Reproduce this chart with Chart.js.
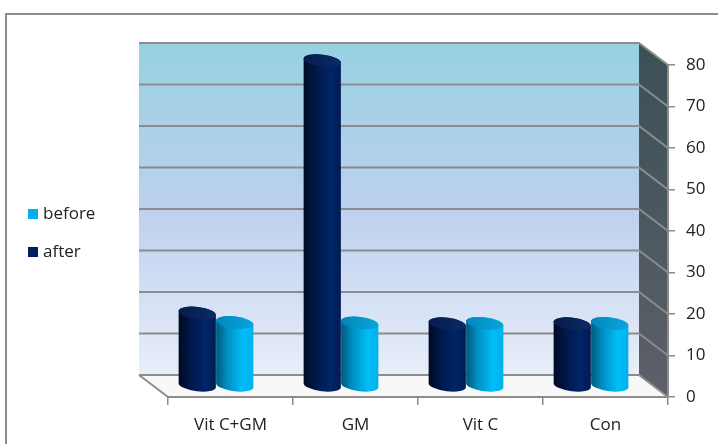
<!DOCTYPE html>
<html>
<head>
<meta charset="utf-8">
<script src="https://cdn.jsdelivr.net/npm/chart.js@4.4.1/dist/chart.umd.min.js"></script>
<style>
  html, body { margin: 0; padding: 0; background: #fff; }
  #wrap { position: relative; width: 718px; height: 444px; }
</style>
</head>
<body>
<div id="wrap"><canvas id="chart"></canvas></div>
<script>
const categories = ['Vit C+GM', 'GM', 'Vit C', 'Con'];
const afterValues = [17.6, 78.4, 15.0, 15.0];
const beforeValues = [15.3, 15.2, 15.1, 15.1];
const yTicks = [0, 10, 20, 30, 40, 50, 60, 70, 80];

// offset of the back wall from the front plane (fake 3D box)
const DX = -29, DY = -22;
const gridGrey = '#8c8c8c';

// shading for the cylinders, left edge to right edge
const shades = {
  after: {
    body: [[0, '#000a22'], [0.35, '#00194c'], [0.72, '#002568'], [1, '#001b52']],
    top: ['#061c4e', '#0b2a66']
  },
  before: {
    body: [[0, '#00587a'], [0.3, '#008fc2'], [0.72, '#00bef8'], [1, '#00b0ec']],
    top: ['#0088bb', '#0aa4dc']
  }
};

function drawCylinder(ctx, cx, top, bottom, w, shade) {
  const rx = w / 2, ry = 6, rot = 0.12;
  const ex = rx * Math.cos(rot), ey = rx * Math.sin(rot);

  const body = ctx.createLinearGradient(cx - rx, 0, cx + rx, 0);
  shade.body.forEach(s => body.addColorStop(s[0], s[1]));
  ctx.beginPath();
  ctx.moveTo(cx - ex, top - ey);
  ctx.lineTo(cx - ex, bottom - ey);
  ctx.ellipse(cx, bottom, rx, ry, rot, Math.PI, 0, true);
  ctx.lineTo(cx + ex, top + ey);
  ctx.ellipse(cx, top, rx, ry, rot, 0, Math.PI, true);
  ctx.closePath();
  ctx.fillStyle = body;
  ctx.fill();

  const cap = ctx.createLinearGradient(cx - rx, 0, cx + rx, 0);
  cap.addColorStop(0, shade.top[0]);
  cap.addColorStop(1, shade.top[1]);
  ctx.beginPath();
  ctx.ellipse(cx, top, rx, ry, rot, 0, Math.PI * 2);
  ctx.fillStyle = cap;
  ctx.fill();
}

const box3d = {
  id: 'box3d',
  beforeDraw(chart) {
    const { ctx, chartArea: a, scales: { y } } = chart;
    const L = a.left, R = a.right, T = a.top, B = a.bottom;
    const bl = L + DX, br = R + DX, bt = T + DY, bb = B + DY;
    ctx.save();

    // outer frame
    ctx.strokeStyle = gridGrey;
    ctx.lineWidth = 2;
    ctx.beginPath();
    ctx.moveTo(6, chart.height + 2);
    ctx.lineTo(6, 14);
    ctx.lineTo(chart.width + 2, 14);
    ctx.stroke();

    // back wall
    const wall = ctx.createLinearGradient(0, bt, 0, bb);
    wall.addColorStop(0, '#97d1e2');
    wall.addColorStop(0.5, '#bdd0ee');
    wall.addColorStop(1, '#e8eefa');
    ctx.fillStyle = wall;
    ctx.fillRect(bl, bt, br - bl, bb - bt);

    // side wall
    const side = ctx.createLinearGradient(0, bt, 0, B);
    side.addColorStop(0, '#3b5057');
    side.addColorStop(1, '#5d6068');
    ctx.fillStyle = side;
    ctx.beginPath();
    ctx.moveTo(br, bt); ctx.lineTo(R, T); ctx.lineTo(R, B); ctx.lineTo(br, bb);
    ctx.closePath();
    ctx.fill();

    // floor
    ctx.fillStyle = '#f8f8f8';
    ctx.beginPath();
    ctx.moveTo(bl, bb); ctx.lineTo(br, bb); ctx.lineTo(R, B); ctx.lineTo(L, B);
    ctx.closePath();
    ctx.fill();

    // gridlines across back wall and side wall
    ctx.strokeStyle = gridGrey;
    ctx.lineWidth = 2;
    y.ticks.forEach(t => {
      const py = y.getPixelForValue(t.value);
      ctx.beginPath();
      ctx.moveTo(bl, py + DY);
      ctx.lineTo(br, py + DY);
      ctx.lineTo(R, py);
      ctx.stroke();
    });
    ctx.beginPath();
    ctx.moveTo(bl, bb);
    ctx.lineTo(L, B);
    ctx.stroke();
    ctx.restore();
  },
  beforeDatasetsDraw(chart) {
    const ctx = chart.ctx;
    ctx.save();
    chart.data.datasets.forEach((ds, di) => {
      const meta = chart.getDatasetMeta(di);
      meta.data.forEach(bar => {
        const p = bar.getProps(['x', 'y', 'base', 'width'], true);
        drawCylinder(ctx, p.x + DX / 2, p.y + DY / 2, p.base + DY / 2, p.width, shades[ds.label]);
      });
    });
    ctx.restore();
    return false;
  },
  afterDraw(chart) {
    // legend on the left, listed in reverse order
    const ctx = chart.ctx;
    ctx.save();
    ctx.font = "17px 'Open Sans', sans-serif";
    ctx.textBaseline = 'middle';
    const items = chart.data.datasets.slice().reverse();
    items.forEach((ds, i) => {
      const cy = 214 + i * 38;
      ctx.fillStyle = ds.backgroundColor;
      ctx.fillRect(28, cy - 5, 10, 10);
      ctx.fillStyle = '#222';
      ctx.fillText(ds.label, 43, cy);
    });
    ctx.restore();
  }
};

Chart.defaults.font.family = "'Open Sans', sans-serif";
Chart.defaults.font.size = 17;
Chart.defaults.color = '#222';

new Chart(document.getElementById('chart'), {
  type: 'bar',
  data: {
    labels: categories,
    datasets: [
      { label: 'after', data: afterValues, backgroundColor: '#002060' },
      { label: 'before', data: beforeValues, backgroundColor: '#00b0f0' }
    ]
  },
  options: {
    responsive: true,
    maintainAspectRatio: false,
    animation: false,
    layout: { padding: { left: 168, top: 65, right: 0, bottom: 0 } },
    datasets: { bar: { barPercentage: 1, categoryPercentage: 0.6 } },
    plugins: { legend: { display: false }, tooltip: { enabled: false } },
    scales: {
      x: {
        afterFit: s => { s.height = 47; },
        grid: { drawOnChartArea: false, drawTicks: true, tickLength: 8, color: gridGrey, lineWidth: 1.5, offset: true },
        border: { display: true, color: gridGrey, width: 2 },
        ticks: { padding: 10, maxRotation: 0 }
      },
      y: {
        position: 'right',
        min: 0,
        max: 80,
        afterBuildTicks: s => { s.ticks = yTicks.map(v => ({ value: v })); },
        afterFit: s => { s.width = 50; },
        grid: { drawOnChartArea: false, drawTicks: true, tickLength: 7, color: gridGrey, lineWidth: 1.5 },
        border: { display: true, color: gridGrey, width: 2 },
        ticks: { padding: 11 }
      }
    }
  },
  plugins: [box3d]
});
</script>
</body>
</html>
